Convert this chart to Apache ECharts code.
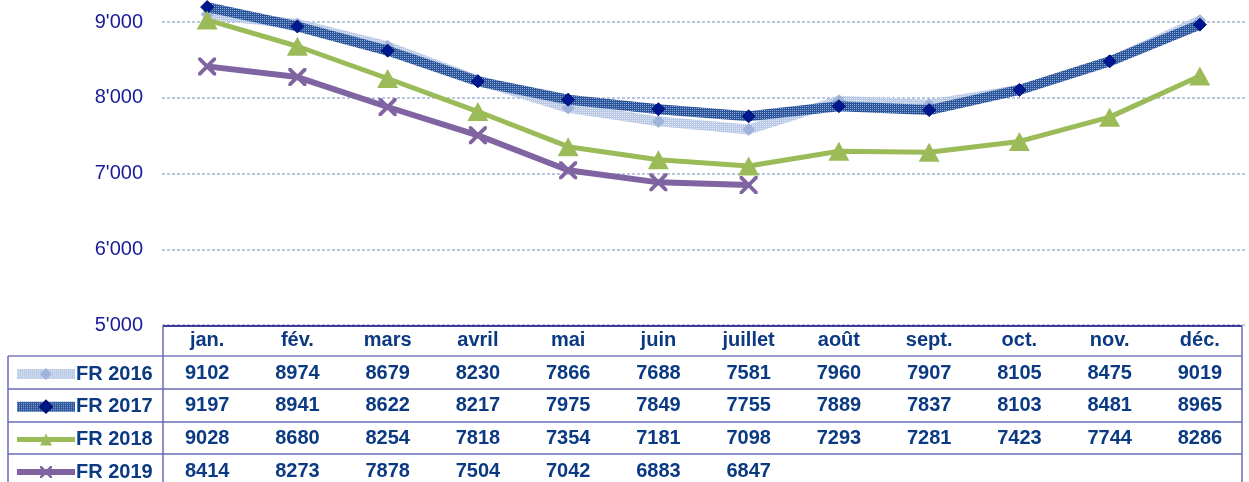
<!DOCTYPE html>
<html><head><meta charset="utf-8">
<script src="https://cdn.jsdelivr.net/npm/echarts@6/dist/echarts.min.js"></script>
<style>html,body{margin:0;padding:0;background:#fff}#c{width:1249px;height:482px}</style>
</head><body><div id="c"></div>
<script>
var months = ['jan.','fév.','mars','avril','mai','juin','juillet','août','sept.','oct.','nov.','déc.'];
var fr2016 = [9102,8974,8679,8230,7866,7688,7581,7960,7907,8105,8475,9019];
var fr2017 = [9197,8941,8622,8217,7975,7849,7755,7889,7837,8103,8481,8965];
var fr2018 = [9028,8680,8254,7818,7354,7181,7098,7293,7281,7423,7744,8286];
var fr2019 = [8414,8273,7878,7504,7042,6883,6847,null,null,null,null,null];
var seriesNames = ['FR 2016','FR 2017','FR 2018','FR 2019'];
var yTicks = [5000,6000,7000,8000,9000];

function makePattern(base, dot, alpha){
  var c = document.createElement('canvas'); c.width = 4; c.height = 4;
  var g = c.getContext('2d');
  g.globalAlpha = alpha;
  g.fillStyle = base; g.fillRect(0,0,4,4);
  g.fillStyle = dot; g.fillRect(0,0,1,1); g.fillRect(2,2,1,1);
  g.fillRect(2,0,1,1); g.fillRect(0,2,1,1);
  return {image: c, repeat: 'repeat'};
}
var pat16 = makePattern('#aebfe0', '#e8eef8', 0.85);
var pat17 = makePattern('#2c5599', '#8aa8d8', 1);

var tableColor = '#0b3a82';
var fontFam = 'Liberation Sans, Arial, sans-serif';
var xPath = 'path://M0,0L3,0L10,7L17,0L20,0L20,3L13,10L20,17L20,20L17,20L10,13L3,20L0,20L0,17L7,10L0,3Z';

var chart = echarts.init(document.getElementById('c'));
var lineH = 32.7;
chart.setOption({
  animation: false,
  grid: {left: 162, right: 4, top: 22, bottom: 157, containLabel: false, outerBoundsMode: 'none'},
  legend: {
    orient: 'vertical', left: 12, top: 364, height: 200, itemGap: 12.7, padding: 0,
    itemWidth: 58, itemHeight: 15,
    data: seriesNames,
    lineStyle: {width: 'inherit'},
    textStyle: {fontFamily: fontFam, fontWeight: 'bold', fontSize: 20, color: tableColor, padding: [0,0,0,-4], lineHeight: 20}
  },
  xAxis: {
    type: 'category', data: months, boundaryGap: true,
    axisLine: {show: false}, axisTick: {show: false},
    axisLabel: {
      interval: 0, margin: -1,
      fontFamily: fontFam, fontWeight: 'bold', fontSize: 20,
      color: tableColor, lineHeight: lineH, verticalAlign: 'top',
      formatter: function(v, i){
        var f = function(a){ return a[i] == null ? ' ' : String(a[i]); };
        return [v, f(fr2016), f(fr2017), f(fr2018), f(fr2019)].join('\n');
      }
    }
  },
  yAxis: {
    type: 'value', min: yTicks[0], max: yTicks[yTicks.length-1], interval: 1000,
    axisLine: {show: false}, axisTick: {show: false},
    axisLabel: {
      margin: 19, fontFamily: fontFam, fontSize: 20, color: '#1a1a99',
      formatter: function(v){ var s = String(v); return s.slice(0, s.length-3) + "'" + s.slice(-3); }
    },
    splitLine: {lineStyle: {color: '#bac6df', type: [3,2], width: 2}}
  },
  series: [
    {name: 'FR 2016', type: 'line', data: fr2016, clip: false,
     symbol: 'diamond', symbolSize: 13,
     lineStyle: {width: 10, color: pat16},
     itemStyle: {color: '#9cb0d8', opacity: 0.9}, z: 2},
    {name: 'FR 2017', type: 'line', data: fr2017, clip: false,
     symbol: 'diamond', symbolSize: 13,
     lineStyle: {width: 10, color: pat17},
     itemStyle: {color: '#00188f', borderColor: '#001070', borderWidth: 1}, z: 3},
    {name: 'FR 2018', type: 'line', data: fr2018, clip: false,
     symbol: 'triangle', symbolSize: [21, 19],
     lineStyle: {width: 5, color: '#9bbb59'},
     itemStyle: {color: '#9bbb59'}, z: 4},
    {name: 'FR 2019', type: 'line', data: fr2019, clip: false,
     symbol: xPath, symbolSize: 18,
     lineStyle: {width: 6, color: '#8064a2'},
     itemStyle: {color: '#8064a2'}, z: 5}
  ],
  graphic: [
    {type: 'line', shape: {x1: 163, y1: 326, x2: 1242, y2: 326}, style: {stroke: '#000080', lineWidth: 1.5}, z: 100},
    {type: 'line', shape: {x1: 8, y1: 356, x2: 1242, y2: 356}, style: {stroke: '#7a7ac0', lineWidth: 1.5}, z: 100},
    {type: 'line', shape: {x1: 8, y1: 389, x2: 1242, y2: 389}, style: {stroke: '#6a6ab8', lineWidth: 1.5}, z: 100},
    {type: 'line', shape: {x1: 8, y1: 422, x2: 1242, y2: 422}, style: {stroke: '#6a6ab8', lineWidth: 1.5}, z: 100},
    {type: 'line', shape: {x1: 8, y1: 454, x2: 1242, y2: 454}, style: {stroke: '#6a6ab8', lineWidth: 1.5}, z: 100},
    {type: 'line', shape: {x1: 163, y1: 326, x2: 163, y2: 482}, style: {stroke: '#6a6ab8', lineWidth: 1.5}, z: 100},
    {type: 'line', shape: {x1: 8, y1: 356, x2: 8, y2: 482}, style: {stroke: '#6a6ab8', lineWidth: 1.5}, z: 100},
    {type: 'line', shape: {x1: 1242, y1: 326, x2: 1242, y2: 482}, style: {stroke: '#6a6ab8', lineWidth: 1.5}, z: 100}
  ]
});
</script></body></html>
